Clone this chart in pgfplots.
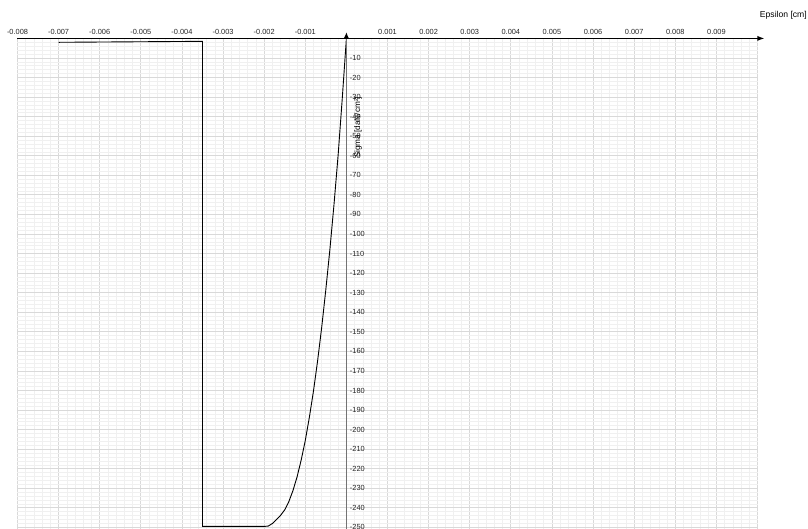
\documentclass[border=0pt]{standalone}
\usepackage{fontspec}
\setmainfont{Liberation Sans}
\usepackage{pgfplots}
\pgfplotsset{compat=1.18}
\usetikzlibrary{arrows.meta}
\begin{document}
\begin{tikzpicture}
\begin{axis}[
  scale only axis, width=740pt, height=498.8pt,
  xmin=-0.008, xmax=0.01, ymin=-255, ymax=0,
  axis lines=middle,
  axis line style={draw=none,-},
  clip=false,
  scaled x ticks=false, scaled y ticks=false,
  xtick={-0.008,-0.007,-0.006,-0.005,-0.004,-0.003,-0.002,-0.001,0,0.001,0.002,0.003,0.004,0.005,0.006,0.007,0.008,0.009,0.01},
  xticklabels={-0.008,-0.007,-0.006,-0.005,-0.004,-0.003,-0.002,-0.001,{},0.001,0.002,0.003,0.004,0.005,0.006,0.007,0.008,0.009,{}},
  ytick={-250,-240,-230,-220,-210,-200,-190,-180,-170,-160,-150,-140,-130,-120,-110,-100,-90,-80,-70,-60,-50,-40,-30,-20,-10,0},
  yticklabels={-250,-240,-230,-220,-210,-200,-190,-180,-170,-160,-150,-140,-130,-120,-110,-100,-90,-80,-70,-60,-50,-40,-30,-20,-10,{}},
  minor x tick num=4, minor y tick num=4,
  grid=both,
  major grid style={draw=black!15, line width=0.8pt},
  minor grid style={draw=black!6, line width=0.6pt},
  major tick length=0pt, minor tick length=0pt,
  xticklabel style={anchor=south, font=\fontsize{7.4}{8}\selectfont, text=black!85},
  yticklabel style={anchor=west, font=\fontsize{7.4}{8}\selectfont, text=black!85},
]
\addplot[black, line width=0.9pt] coordinates {
(-0.007,-2.0) (-0.0035,-1.5) (-0.0035,-249.5) (-0.002,-249.5)
(-0.0019,-249.3) (-0.0018,-248.0) (-0.0017,-246.0) (-0.0016,-243.8)
(-0.0015,-241.0) (-0.0014,-236.8) (-0.0013,-231.2) (-0.0012,-224.2)
(-0.0011,-215.6) (-0.0010,-205.6) (-0.0009,-193.6) (-0.0008,-180.2)
(-0.0007,-164.8) (-0.0006,-147.6) (-0.0005,-128.4) (-0.0004,-107.6)
(-0.0003,-84.6) (-0.0002,-59.4) (-0.0001,-30.6) (0,0)
};
\draw[line width=1.1pt, -{Latex[length=7pt,width=5pt]}] (axis cs:-0.008,0) -- (axis cs:0.01017,0);
\draw[black!55, line width=1.3pt] (axis cs:0,-255) -- (axis cs:0,0);
\draw[black, line width=1pt, -{Latex[length=6pt,width=5pt]}] (axis cs:0,-0.5) -- (axis cs:0,3.2);
\coordinate (o) at (axis cs:-0.008,0);
\coordinate (yl) at (axis cs:0,-45.5);
\end{axis}
\node[rotate=90, font=\fontsize{8.2}{9}\selectfont] at ([xshift=11.7pt]yl) {Sigma [daN/cm²]};
\node[anchor=east, font=\fontsize{8.6}{10}\selectfont, inner sep=0pt] at ([xshift=789.5pt, yshift=23.4pt]o) {Epsilon [cm]};
\pgfresetboundingbox
\path[use as bounding box] ([xshift=-17.5pt, yshift=-489.6pt]o) rectangle ([xshift=790.5pt, yshift=38.4pt]o);
\end{tikzpicture}
\end{document}
